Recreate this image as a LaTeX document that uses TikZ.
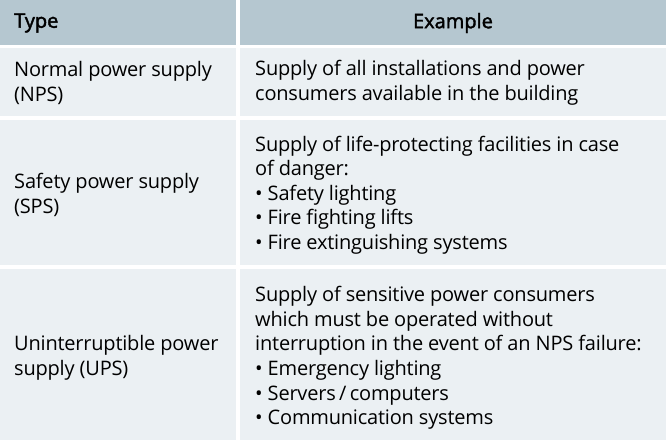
\documentclass[tikz,border=0pt]{standalone}
\usepackage{fontspec}
\setmainfont{Open Sans}
\usetikzlibrary{positioning}
\definecolor{headbg}{HTML}{B5C7D0}
\definecolor{rowbg}{HTML}{EBF0F3}
\begin{document}
\begin{tikzpicture}
                [x=1pt, y=-1pt,
                hsty/.style={fill=headbg, draw=none},
                rsty/.style={fill=rowbg, draw=none},
                tsty/.style={anchor=west, align=left, inner sep=0pt, text=black, font=\fontsize{20}{24.6}\selectfont\addfontfeature{LetterSpace=-1}},
                bsty/.style={tsty, font=\fontsize{20}{24.6}\selectfont\addfontfeature{FakeBold=2}}]
                \useasboundingbox (0,0) rectangle (666,440);
                % cells
                \path[hsty] (0,0) rectangle (236,45);
                \path[hsty] (240,0) rectangle (666,45);
                \path[rsty] (0,48) rectangle (236,116);
                \path[rsty] (240,48) rectangle (666,116);
                \path[rsty] (0,120) rectangle (236,265);
                \path[rsty] (240,120) rectangle (666,265);
                \path[rsty] (0,269) rectangle (236,440);
                \path[rsty] (240,269) rectangle (666,440);
                % header
                \node[bsty] (htype) at (14,23) {Type};
                \node[bsty, anchor=center] (hexample) at (453,23) {Example};
                % rows
                \node[tsty] (nps) at (14,83) {Normal power supply\\(NPS)};
                \node[tsty] (npsex) at (255,83) {Supply of all installations and power\\consumers available in the building};
                \node[tsty] (sps) at (14,195) {Safety power supply\\(SPS)};
                \node[tsty] (spsex) at (255,195) {Supply of life-protecting facilities in case\\of danger:\\\textbullet\ Safety lighting\\\textbullet\ Fire fighting lifts\\\textbullet\ Fire extinguishing systems};
                \node[tsty] (ups) at (14,358) {Uninterruptible power\\supply (UPS)};
                \node[tsty] (upsex) at (255,358) {Supply of sensitive power consumers\\which must be operated without\\interruption in the event of an NPS failure:\\\textbullet\ Emergency lighting\\\textbullet\ Servers\,/\,computers\\\textbullet\ Communication systems};
            \end{tikzpicture}
\end{document}
